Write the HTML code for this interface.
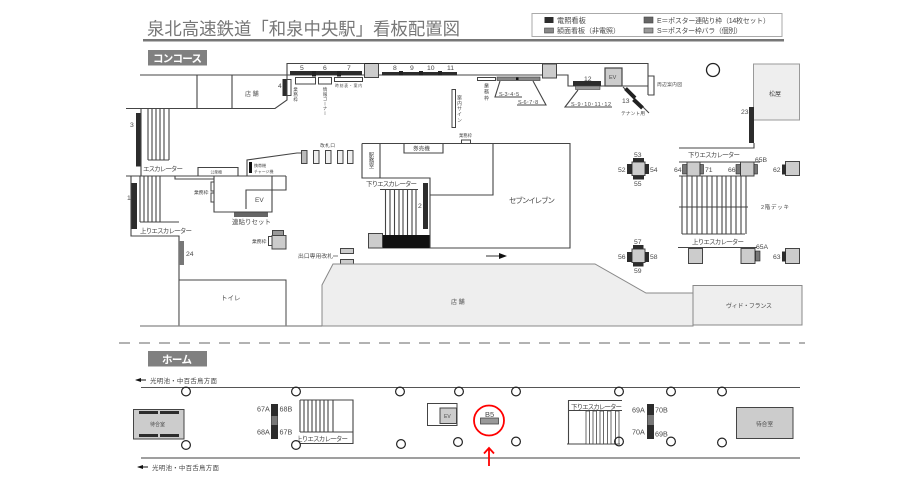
<!DOCTYPE html>
<html lang="ja"><head><meta charset="utf-8"><title>和泉中央駅 看板配置図</title>
<style>
html,body{margin:0;padding:0;background:#fff;width:919px;height:491px;overflow:hidden}
svg{display:block;filter:blur(.35px)}
text{font-family:"Liberation Sans","Noto Sans CJK JP",sans-serif;fill:#4a4a4a}
.v{writing-mode:vertical-rl}
.l{stroke:#444;stroke-width:1.1;fill:none}
.b{stroke:#444;stroke-width:1;fill:#fff}
.p{stroke:#444;stroke-width:1;fill:#ccc}
.d{fill:#2c2c2c}
</style></head><body>
<svg width="919" height="491" viewBox="0 0 919 491" xmlns="http://www.w3.org/2000/svg">
<rect width="919" height="491" fill="#fff"/>
<!-- title -->
<text x="147" y="35" font-size="17.4" style="fill:#777" textLength="313">泉北高速鉄道「和泉中央駅」看板配置図</text>
<rect x="143" y="39" width="641" height="2.5" fill="#777"/>
<!-- legend -->
<rect x="532" y="13.500" width="250" height="23" fill="#fff" stroke="#aaa"/>
<rect x="544.500" y="17" width="9" height="6" class="d"/>
<rect x="544.500" y="28" width="9" height="5" fill="#888" stroke="#444" stroke-width=".6"/>
<rect x="644" y="17" width="9" height="6" fill="#666" stroke="#444" stroke-width=".6"/>
<rect x="644" y="28" width="9" height="5" fill="#999" stroke="#444" stroke-width=".6"/>
<text x="557" y="23" font-size="7.2">電照看板</text>
<text x="557" y="33" font-size="7" textLength="63">額面看板（非電照）</text>
<text x="657" y="23" font-size="7" textLength="113">E＝ポスター連貼り枠（14枚セット）</text>
<text x="657" y="33" font-size="7" textLength="85">S＝ポスター枠バラ（個別）</text>
<!-- badges -->
<rect x="148" y="50" width="59" height="15.500" fill="#808080"/>
<text x="153" y="62" font-size="10.500" font-weight="bold" style="fill:#fff" textLength="49">コンコース</text>
<rect x="148" y="351" width="59" height="15.500" fill="#808080"/>
<text x="162" y="363" font-size="10.500" font-weight="bold" style="fill:#fff" textLength="30">ホーム</text>

<!-- concourse top walls -->
<path class="l" d="M140 75H287M126 108.500H275L287 100V63.500H648V95M197 75V108.500M232 75V108.500M287 75H364M379 75H542M556 75H568V86H648M648 76H654V95H648"/>
<rect x="364.500" y="63.500" width="14" height="14" class="p"/>
<rect x="364.500" y="63" width="14" height="1" fill="#222"/>
<rect x="542.500" y="64" width="14" height="14" class="p"/>
<rect x="605" y="68" width="17" height="18" class="p" style="stroke-width:1.200"/>
<text x="609" y="79" font-size="5.500">EV</text>
<!-- signs 5-11 -->
<rect x="290" y="71" width="72" height="4" class="d"/>
<rect x="312" y="71" width="4" height="5.500" fill="#222"/>
<rect x="337" y="71" width="4" height="5.500" fill="#222"/>
<rect x="382" y="72" width="75" height="3.500" class="d"/>
<rect x="399" y="71" width="4" height="4.500" fill="#222"/>
<rect x="419" y="71" width="4" height="4.500" fill="#222"/>
<rect x="438" y="71" width="4" height="4.500" fill="#222"/>
<text x="300" y="70" font-size="6.800">5</text><text x="323" y="70" font-size="6.800">6</text><text x="347" y="70" font-size="6.800">7</text>
<text x="393" y="70" font-size="6.800">8</text><text x="410" y="70" font-size="6.800">9</text><text x="427" y="70" font-size="6.800">10</text><text x="447" y="70" font-size="6.800">11</text>
<rect x="295.500" y="77.500" width="20" height="6.500" class="b"/>
<rect x="318.500" y="77.500" width="13" height="6.500" class="b"/>
<rect x="334.500" y="77.500" width="28" height="4" class="b"/>
<text x="335" y="87" font-size="3.800" textLength="27">時刻表・案内</text>
<!-- sign 4 -->
<rect x="282.500" y="79" width="4.500" height="17" class="d"/>
<rect x="287" y="79.500" width="4" height="16" class="b"/>
<text x="278" y="88" font-size="6.500">4</text>
<text x="296" y="87" font-size="4.600" class="v" letter-spacing=".4">業務枠</text>
<text x="325.500" y="87" font-size="4.600" class="v" letter-spacing=".2">情報コーナー</text>
<text x="245" y="96" font-size="6">店 舗</text>
<!-- guidance -->
<rect x="452" y="89.500" width="3.500" height="38" class="b"/>
<text x="459" y="95" font-size="5" class="v" letter-spacing=".6">案内サイン</text>
<rect x="477.500" y="77.500" width="18" height="3" class="b"/>
<rect x="497" y="77" width="43" height="3.500" fill="#888" stroke="#444" stroke-width=".7"/>
<rect x="516" y="77.500" width="2.500" height="2.500" fill="#111"/>
<text x="486" y="83" font-size="5" class="v" letter-spacing="1.300">業務枠</text>
<path class="l" d="M500 81L495 97H522M533 81L546 105H517"/>
<text x="499" y="96" font-size="5.500">S-3･4･5</text>
<text x="518" y="104" font-size="5.500">S-6･7･8</text>
<rect x="573" y="81" width="28" height="5" class="d"/>
<rect x="575.500" y="86" width="24.500" height="3.500" fill="#999" stroke="#444" stroke-width=".6"/>
<path class="l" d="M578 90L565 107H612"/>
<text x="571" y="106" font-size="5.500" textLength="40">S-9･10･11･12</text>
<text x="584" y="81" font-size="6.800">12</text>
<path class="l" d="M623 87L649 113"/>
<path d="M625.500 88.500L635 98M633.500 99.500L642.500 108" stroke="#222" stroke-width="4" fill="none"/>
<text x="622" y="103" font-size="6.800">13</text>
<text x="621" y="115" font-size="4.800" textLength="24">テナント用</text>
<text x="657" y="86" font-size="4.800" textLength="25">周辺案内図</text>
<circle cx="713" cy="70" r="6.500" fill="#fff" stroke="#222" stroke-width="1.300"/>
<!-- matsuya -->
<rect x="753.500" y="64" width="46" height="56" fill="#eee" stroke="#999"/>
<text x="769" y="96" font-size="6">松屋</text>
<rect x="749" y="107" width="5" height="36" class="d"/>
<text x="741" y="114" font-size="6.800">23</text>
<path class="l" d="M754 143V148H679"/>

<!-- west escalator 3 -->
<rect x="136" y="113" width="5" height="53.500" class="d"/>
<text x="130" y="127" font-size="6.800">3</text>
<path class="l" d="M141 108V176M148 108V160M152 108V160M156 108V160M160 108V160M164 108V160M169 108V160M148 160H169"/>
<text x="143" y="171" font-size="6.500" textLength="40">エスカレーター</text>
<path class="l" d="M126 176H286M131 176V236H179V326M140 176V222M144 176V222M148 176V222M152 176V222M156 176V222M160 176V222M140 222H179"/>
<rect x="131.500" y="183" width="5.500" height="46" class="d"/>
<text x="127" y="200" font-size="6.800">1</text>
<text x="140" y="233" font-size="6.500" textLength="52">上りエスカレーター</text>
<rect x="179" y="241" width="5" height="24" fill="#777"/>
<text x="186" y="256" font-size="6.800">24</text>
<!-- toilet -->
<rect x="179" y="280" width="107" height="46" class="b"/>
<text x="221" y="300" font-size="6.500">トイレ</text>
<!-- public phone + EV -->
<path class="l" d="M198 176V167.500H238V176M175 176V179H214M214 176V212H272V176M272 190H286V176M246 209V190H272"/>
<text x="210.500" y="173.500" font-size="3.800">公衆機</text>
<text x="255" y="202" font-size="6.500">EV</text>
<rect x="211" y="182" width="3" height="9" class="b"/><rect x="211" y="193" width="3" height="9" class="b"/>
<text x="194" y="194" font-size="4.800">業務枠</text>
<rect x="234" y="212.500" width="34" height="4.500" fill="#666"/>
<text x="232" y="224" font-size="6.500" textLength="39">連貼りセット</text>
<rect x="249" y="162" width="3" height="11" fill="#111"/>
<text x="254" y="167" font-size="4">携帯機</text>
<text x="254" y="173" font-size="3.900">チャージ機</text>
<path class="l" d="M247 176V160L297 153H301"/>
<rect x="301.500" y="150.500" width="5.500" height="13" class="p" style="fill:#bbb"/>
<rect x="313.500" y="150.500" width="5.500" height="13" class="p" style="fill:#eee"/>
<rect x="325.500" y="150.500" width="5.500" height="13" class="p" style="fill:#eee"/>
<rect x="337.500" y="150.500" width="5.500" height="13" class="p" style="fill:#eee"/>
<rect x="347.500" y="150.500" width="5.500" height="13" class="p" style="fill:#eee"/>
<text x="320" y="147" font-size="4.800" textLength="15">改札口</text>
<!-- business box -->
<rect x="272" y="235.500" width="14" height="13.500" class="p"/>
<rect x="272.500" y="230.500" width="11" height="5" fill="#999" stroke="#444"/>
<rect x="268.500" y="236.500" width="3.500" height="9" class="b"/>
<text x="252" y="243" font-size="4.800">業務枠</text>
<!-- centre block -->
<path class="l" d="M362 143.500H570V248H368M362 143.500V178H430V195H493V143.500M380 143.500V178M404 143.500V153H443V143.500M430 195V248M380 189.500H418"/>
<text x="370.500" y="152" font-size="5.500" class="v" letter-spacing=".2">駅務室</text>
<text x="413" y="150.500" font-size="5.600">券売機</text>
<rect x="461.500" y="140" width="9" height="3.500" class="b"/>
<text x="459" y="137" font-size="4.300">業務枠</text>
<text x="366" y="186" font-size="6.500" textLength="51">下りエスカレーター</text>
<rect x="423" y="183" width="5" height="46" class="d"/>
<text x="418" y="208" font-size="6.800">2</text>
<path class="l" d="M385.500 189V235M390 189V235M394.500 189V235M399 189V235M403 189V235M407.500 189V235M412 189V235M416 189V235"/>
<rect x="382" y="235" width="47.500" height="13" fill="#111"/>
<rect x="368.500" y="233.500" width="14" height="14.500" class="p"/>
<text x="509" y="203" font-size="7.500" textLength="46">セブンイレブン</text>
<path d="M486 256H499" stroke="#333" stroke-width="1"/><path d="M499 253L507 256L499 259Z" fill="#111"/>
<text x="298" y="258" font-size="5.800" textLength="35">出口専用改札</text>
<path d="M333 256H338" stroke="#444" stroke-width=".7"/>
<rect x="340.500" y="248.500" width="13" height="5" class="p"/>
<rect x="340.500" y="259.500" width="13" height="4.500" class="p"/>
<!-- shop -->
<path d="M322 326V285L333 264H595L646 293H693V326Z" fill="#eee" stroke="#888"/>
<rect x="693" y="285.500" width="109" height="39.500" fill="#eee" stroke="#888"/>
<text x="451" y="304" font-size="6">店 舗</text>
<text x="726" y="308" font-size="6" textLength="46">ヴィド・フランス</text>
<path d="M140 326H322" stroke="#888" stroke-width="1.200"/>

<!-- S pillars -->
<g>
<rect x="632" y="162" width="13" height="13.500" class="p"/>
<rect x="633" y="158" width="11" height="4" class="d"/><rect x="633" y="175.500" width="11" height="4" class="d"/>
<rect x="627" y="164" width="5" height="10" class="d"/><rect x="645" y="164" width="4" height="10" class="d"/>
<text x="634" y="157" font-size="6.800">53</text><text x="618" y="172" font-size="6.800">52</text><text x="650" y="172" font-size="6.800">54</text><text x="634" y="186" font-size="6.800">55</text>
</g>
<g>
<rect x="632" y="249" width="13" height="13.500" class="p"/>
<rect x="633" y="245" width="10.500" height="4" class="d"/><rect x="633" y="262.500" width="10.500" height="4" class="d"/>
<rect x="627" y="252" width="5" height="10" class="d"/><rect x="645" y="252" width="4" height="10" class="d"/>
<text x="634" y="244" font-size="6.800">57</text><text x="618" y="259" font-size="6.800">56</text><text x="650" y="259" font-size="6.800">58</text><text x="634" y="273" font-size="6.800">59</text>
</g>
<!-- right escalators -->
<text x="688" y="157" font-size="6.500" textLength="52">下りエスカレーター</text>
<path class="l" d="M679 162H760M679 176H746M679 207H748M682 234H745M682 176V234M687 176V234M692 176V234M697 176V234M702 176V234M707 176V234M712 176V234M717 176V234M722 176V234M726 176V234M731 176V234M736 176V234M741 176V234M746 176V234"/>
<text x="692" y="244" font-size="6.500" textLength="52">上りエスカレーター</text>
<path class="l" d="M678 247.500H757"/>
<rect x="687" y="162" width="13" height="14" class="p"/>
<rect x="740.500" y="162" width="13.500" height="14" class="p"/>
<rect x="682.500" y="164.500" width="4.500" height="9.500" fill="#777" stroke="#222" stroke-width=".6"/>
<rect x="700" y="164.500" width="3.500" height="9.500" fill="#777" stroke="#222" stroke-width=".6"/>
<rect x="736" y="164.500" width="4.500" height="9.500" fill="#777" stroke="#222" stroke-width=".6"/>
<rect x="754" y="164.500" width="3.500" height="9.500" fill="#777" stroke="#222" stroke-width=".6"/>
<text x="674" y="172" font-size="6.800">64</text><text x="705" y="172" font-size="6.800">71</text><text x="728" y="172" font-size="6.800">66</text><text x="755" y="162" font-size="6.800">65B</text>
<rect x="785.500" y="161.500" width="14" height="14" class="p"/><rect x="782" y="164.500" width="4" height="10" class="d"/>
<text x="773" y="172" font-size="6.800">62</text>
<rect x="688.500" y="248.500" width="14" height="15" class="p"/>
<rect x="741" y="248.500" width="14" height="15" class="p"/>
<rect x="755.500" y="251" width="4.500" height="10" fill="#777" stroke="#222" stroke-width=".6"/>
<text x="756" y="249" font-size="6.800">65A</text>
<rect x="785.500" y="248.500" width="14" height="15" class="p"/><rect x="782" y="251.500" width="4" height="10" class="d"/>
<text x="773" y="259" font-size="6.800">63</text>
<text x="761" y="209" font-size="5.500" textLength="28">2階デッキ</text>

<!-- separator -->
<path d="M119 343H805" stroke="#666" stroke-width="1" stroke-dasharray="11 9"/>
<!-- platform -->
<path d="M136 380H146" stroke="#111" stroke-width="1"/><path d="M135 380L141 378V382Z" fill="#111"/>
<text x="150" y="383" font-size="6.500" textLength="67">光明池・中百舌鳥方面</text>
<path d="M138 467H148" stroke="#111" stroke-width="1"/><path d="M137 467L143 465V469Z" fill="#111"/>
<text x="152" y="470" font-size="6.500" textLength="67">光明池・中百舌鳥方面</text>
<path d="M141 387.500H800" stroke="#555" stroke-width="1"/>
<path d="M141 458H800" stroke="#666" stroke-width="1.200"/>
<rect x="133.500" y="409.500" width="50.500" height="29.500" fill="#ccc" stroke="#444"/>
<rect x="139" y="411" width="19" height="3" class="d"/><rect x="160" y="411" width="19" height="3" class="d"/>
<rect x="139" y="434" width="19" height="3" class="d"/><rect x="160" y="434" width="19" height="3" class="d"/>
<text x="150" y="426" font-size="5">待合室</text>
<rect x="271" y="404" width="7" height="35" class="d"/><rect x="271.500" y="416" width="6" height="9" fill="#777"/>
<text x="257" y="411.500" font-size="7.200">67A</text><text x="279.500" y="411.500" font-size="7.200">68B</text>
<text x="257" y="434.500" font-size="7.200">68A</text><text x="279.500" y="434.500" font-size="7.200">67B</text>
<path class="l" d="M300 400H353V443.500H300M300 432H353M304 400V432M308 400V432M312 400V432M316 400V432M320 400V432M324 400V432M328 400V432M333 400V432M300 400V432"/>
<text x="296" y="441" font-size="6.500" textLength="52">上りエスカレーター</text>
<rect x="427.500" y="403.500" width="29.500" height="22" class="b"/>
<rect x="440" y="408" width="16.500" height="15.500" class="p"/>
<text x="444" y="418" font-size="5">EV</text>
<!-- B5 -->
<rect x="480.500" y="418" width="18" height="6" fill="#999" stroke="#444" stroke-width=".8"/>
<text x="485" y="417" font-size="7.500">B5</text>
<circle cx="489" cy="420.500" r="15" fill="none" stroke="#f00" stroke-width="1.800"/>
<path d="M489 466V449M484 453.500L489 448L494 453.500" fill="none" stroke="#f00" stroke-width="1.800"/>
<!-- down esc -->
<path class="l" d="M622 400.500H568.500V444M568.500 410.500H622M567 444H620"/>
<text x="571" y="409" font-size="6.500" textLength="51">下りエスカレーター</text>
<g fill="#fff" stroke="#444" stroke-width=".8">
<rect x="586" y="411" width="3.500" height="33"/><rect x="593" y="411" width="3.500" height="33"/><rect x="600" y="411" width="3.500" height="33"/><rect x="607.500" y="411" width="3.500" height="33"/><rect x="615.500" y="411" width="3.500" height="33"/>
</g>
<rect x="647" y="404" width="7" height="35" class="d"/><rect x="647.500" y="415" width="6.500" height="10" fill="#777"/>
<text x="632" y="412.500" font-size="7.200">69A</text><text x="655" y="412.500" font-size="7.200">70B</text>
<text x="632" y="434.500" font-size="7.200">70A</text><text x="655" y="436.500" font-size="7.200">69B</text>
<rect x="736.500" y="407.500" width="56.500" height="31" fill="#ccc" stroke="#444"/>
<text x="756" y="426" font-size="5.700">待合室</text>
<!-- circles -->
<g fill="none" stroke="#222" stroke-width="1.200">
<circle cx="186" cy="391.500" r="4.400"/><circle cx="296" cy="391.500" r="4.400"/><circle cx="400" cy="391.500" r="4.400"/><circle cx="459" cy="391.500" r="4.400"/><circle cx="516" cy="391.500" r="4.400"/><circle cx="619" cy="391.500" r="4.400"/><circle cx="671" cy="391.500" r="4.400"/><circle cx="722" cy="391.500" r="4.400"/>
<circle cx="186" cy="445" r="4.400"/><circle cx="296" cy="445" r="4.400"/><circle cx="401" cy="444" r="4.400"/><circle cx="458" cy="442" r="4.400"/><circle cx="516" cy="441.500" r="4.400"/><circle cx="619" cy="441.500" r="4.400"/><circle cx="671" cy="441.500" r="4.400"/><circle cx="722" cy="442.500" r="4.400"/>
</g>
</svg>
</body></html>
